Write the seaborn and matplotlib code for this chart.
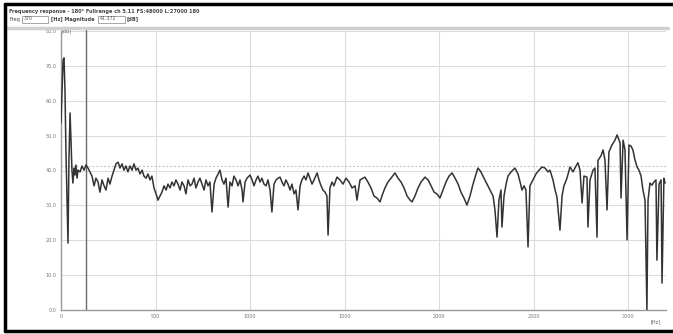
import matplotlib
matplotlib.use("Agg")
import matplotlib.pyplot as plt
import seaborn as sns
import pandas as pd

# ---- data ----
freq_hz = [0, 5, 11, 16, 21, 26, 32, 37, 42, 48, 53, 58, 63, 69, 74, 79, 85, 90, 101, 111,
           122, 132, 143, 153, 164, 175, 185, 196, 206, 217, 228, 238, 249, 259, 270, 280,
           291, 302, 312, 323, 333, 344, 354, 365, 376, 386, 397, 407, 418, 429, 439, 450,
           460, 471, 481, 492, 503, 513, 524, 534, 545, 556, 566, 577, 587, 598, 608, 619,
           630, 640, 651, 661, 672, 683, 693, 704, 714, 725, 735, 746, 757, 767, 778, 788,
           799, 810, 820, 831, 841, 852, 862, 873, 884, 894, 905, 915, 926, 937, 947, 958,
           963, 974, 984, 1000, 1011, 1021, 1032, 1042, 1053, 1063, 1074, 1085, 1095, 1106,
           1116, 1127, 1138, 1148, 1159, 1169, 1180, 1190, 1201, 1212, 1222, 1233, 1243,
           1254, 1265, 1275, 1286, 1296, 1307, 1317, 1328, 1339, 1355, 1365, 1376, 1386,
           1397, 1407, 1413, 1423, 1434, 1444, 1460, 1476, 1492, 1508, 1524, 1540, 1556,
           1566, 1582, 1598, 1608, 1624, 1640, 1656, 1672, 1688, 1698, 1714, 1730, 1746,
           1767, 1783, 1799, 1815, 1831, 1847, 1857, 1873, 1889, 1905, 1926, 1942, 1958,
           1974, 1989, 2005, 2021, 2037, 2053, 2069, 2085, 2101, 2116, 2132, 2148, 2164,
           2180, 2196, 2206, 2222, 2238, 2254, 2270, 2286, 2296, 2307, 2317, 2328, 2333,
           2344, 2355, 2365, 2381, 2402, 2418, 2429, 2439, 2450, 2460, 2471, 2481, 2497,
           2513, 2529, 2545, 2561, 2577, 2587, 2603, 2614, 2624, 2640, 2651, 2661, 2677,
           2693, 2709, 2725, 2735, 2746, 2757, 2767, 2783, 2788, 2799, 2815, 2825, 2836,
           2841, 2857, 2868, 2878, 2889, 2899, 2915, 2931, 2942, 2958, 2963, 2974, 2984,
           2995, 3005, 3016, 3026, 3037, 3048, 3058, 3069, 3079, 3090, 3100, 3106, 3116,
           3127, 3137, 3148, 3153, 3164, 3175, 3180, 3190, 3196]
magnitude_db = [53.6, 61.6, 71.7, 72.3, 63.1, 45.9, 31.5, 19.2, 43.0, 56.5, 48.7, 40.1, 36.4,
                40.7, 38.7, 41.6, 37.8, 40.1, 39.6, 41.3, 40.1, 41.6, 40.7, 39.6, 38.4, 35.6,
                37.8, 36.7, 33.8, 37.3, 35.6, 34.4, 37.8, 36.1, 38.4, 40.1, 41.9, 42.4, 40.7,
                41.9, 40.1, 41.3, 39.6, 41.3, 40.1, 41.9, 40.1, 40.7, 39.0, 40.1, 38.4, 37.8,
                39.0, 37.3, 38.4, 35.0, 33.3, 31.5, 32.7, 33.8, 35.6, 34.4, 36.1, 35.0, 36.7,
                35.6, 37.3, 36.1, 34.4, 36.7, 35.6, 33.3, 37.3, 35.6, 36.1, 37.8, 35.0, 36.7,
                37.8, 36.1, 34.4, 37.3, 35.6, 36.7, 28.1, 36.1, 37.8, 39.0, 40.1, 37.3, 36.1,
                37.8, 29.5, 36.7, 35.6, 38.4, 37.3, 35.6, 37.3, 34.4, 31.0, 36.7, 37.8, 38.7,
                37.3, 35.6, 37.3, 38.4, 36.7, 37.8, 36.1, 35.6, 37.3, 34.4, 28.1, 36.1, 37.3,
                37.8, 38.1, 36.7, 35.6, 37.3, 36.1, 34.4, 36.1, 33.3, 34.4, 28.7, 35.6, 37.3,
                38.4, 37.3, 39.3, 37.8, 36.1, 37.3, 39.3, 37.3, 35.6, 34.4, 33.8, 32.7, 21.5,
                35.0, 36.7, 35.6, 38.1, 37.3, 36.1, 37.8, 36.7, 35.0, 35.6, 31.5, 37.3, 37.8,
                38.1, 36.7, 35.0, 32.7, 32.1, 31.0, 32.7, 35.0, 36.7, 37.8, 39.3, 37.8, 36.7,
                35.0, 32.7, 31.5, 31.0, 32.7, 35.0, 36.7, 38.1, 37.3, 35.6, 33.8, 33.3, 32.1,
                34.4, 36.7, 38.4, 39.3, 37.8, 36.1, 33.8, 32.1, 30.1, 32.7, 36.1, 39.0, 40.7,
                39.6, 37.8, 36.1, 34.4, 32.7, 28.7, 20.9, 31.5, 34.4, 23.8, 32.7, 36.1, 38.4,
                39.6, 40.7, 39.0, 36.7, 34.4, 35.6, 34.4, 18.1, 35.6, 37.3, 39.0, 40.1, 41.0,
                40.7, 39.6, 40.1, 37.3, 34.4, 32.4, 22.9, 32.7, 35.6, 37.8, 41.0, 39.6, 41.3,
                42.2, 40.1, 30.7, 38.4, 38.1, 23.8, 37.3, 40.1, 40.7, 20.9, 42.9, 44.2, 45.9,
                43.0, 28.7, 45.3, 47.3, 48.7, 50.2, 47.9, 32.1, 48.7, 45.9, 20.1, 47.3, 47.0,
                45.9, 43.0, 41.0, 40.1, 38.4, 34.4, 31.5, 0.0, 31.5, 36.4, 35.8, 36.7, 37.3,
                14.3, 36.1, 37.3, 7.7, 37.8, 36.4]

x_ticks = [0, 500, 1000, 1500, 2000, 2500, 3000]
x_tick_labels = ["0", "500", "1000", "1500", "2000", "2500", "3000"]
y_ticks = [0, 10, 20, 30, 40, 50, 60, 70, 80]
y_tick_labels = ["0.0", "10.0", "20.0", "30.0", "40.0", "50.0", "60.0", "70.0", "80.0"]
cursor_hz = 132
reference_db = 41.3

title_text = "Frequency response - 180\u00b0 Fullrange ch 5.11 FS:48000 L:27000 180"
freq_readout = "370"
mag_readout = "41.372"

df = pd.DataFrame({"freq": freq_hz, "mag": magnitude_db})

sns.set_style("white")
plt.rcParams["font.family"] = ["DejaVu Sans"]

W, H = 673, 334
fig = plt.figure(figsize=(W / 100, H / 100), dpi=100)
ax = fig.add_axes([61 / W, (H - 310) / H, (666 - 61) / W, (310 - 31) / H])

ax.set_xlim(0, 3201)
ax.set_ylim(0, 80)
ax.set_xticks(x_ticks)
ax.set_xticklabels(x_tick_labels)
ax.set_yticks(y_ticks)
ax.set_yticklabels(y_tick_labels)
ax.grid(True, color="#dcdcdc", lw=0.8)
ax.set_axisbelow(True)
ax.tick_params(axis="both", labelsize=3.5, colors="#777777", length=2, width=0.6, pad=1)
for s in ["top", "right"]:
    ax.spines[s].set_visible(False)
for s in ["left", "bottom"]:
    ax.spines[s].set_color("#9a9a9a")
    ax.spines[s].set_linewidth(1.0)

ax.axhline(reference_db, color="#bdbdbd", lw=0.8, ls=(0, (1.5, 2)), zorder=1)
ax.axvline(cursor_hz, color="#6a6a6a", lw=1.0, ymax=1.01, clip_on=False, zorder=2)

sns.lineplot(data=df, x="freq", y="mag", ax=ax, color="#333333", lw=1.1,
             estimator=None, sort=False, legend=False, zorder=3)
ax.set_xlabel("")
ax.set_ylabel("")

ax.text(5, 80, "[dB]", fontsize=3.5, color="#666666", va="center", ha="left")
fig.text(651 / W, 1 - 322 / H, "[Hz]", fontsize=3.5, color="#555555", va="center", ha="left")

# top band
fig.add_artist(plt.Line2D([5 / W, 668 / W], [1 - 28 / H, 1 - 28 / H], color="#d0d0d0", lw=2.5))
# outer frame (left, top, bottom)
fig.add_artist(plt.Line2D([5 / W, 5 / W], [1 - 4 / H, 1 - 331 / H], color="black", lw=2.5))
fig.add_artist(plt.Line2D([5 / W, 1.0], [1 - 4 / H, 1 - 4 / H], color="black", lw=2.5))
fig.add_artist(plt.Line2D([5 / W, 1.0], [1 - 331 / H, 1 - 331 / H], color="black", lw=2.5))

# header texts
fig.text(9 / W, 1 - 11 / H, title_text, fontsize=3.6, color="#444444", va="center", ha="left",
         fontweight="bold")
fig.text(9 / W, 1 - 19 / H, "Freq", fontsize=3.6, color="#444444", va="center", ha="left")
fig.add_artist(plt.Rectangle((22 / W, 1 - 22.5 / H), 26 / W, 7 / H, fill=False,
                             ec="#999999", lw=0.6))
fig.text(24 / W, 1 - 19 / H, freq_readout, fontsize=3.4, color="#555555", va="center", ha="left")
fig.text(51 / W, 1 - 19 / H, "[Hz] Magnitude", fontsize=3.6, color="#444444", va="center",
         ha="left", fontweight="bold")
fig.add_artist(plt.Rectangle((98 / W, 1 - 22.5 / H), 27 / W, 7 / H, fill=False,
                             ec="#999999", lw=0.6))
fig.text(100 / W, 1 - 19 / H, mag_readout, fontsize=3.4, color="#555555", va="center", ha="left")
fig.text(127 / W, 1 - 19 / H, "[dB]", fontsize=3.6, color="#444444", va="center", ha="left",
         fontweight="bold")

fig.savefig("out.png", dpi=100)
